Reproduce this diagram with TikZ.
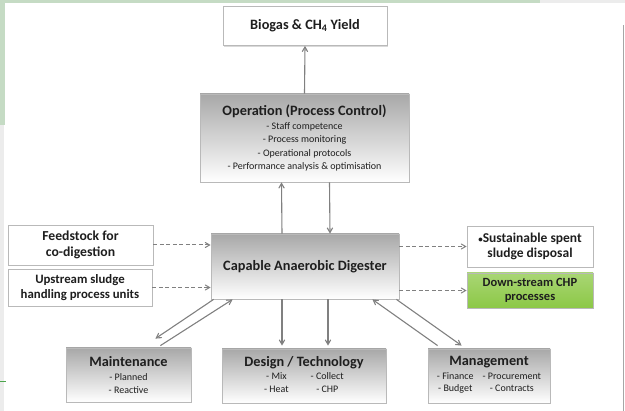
\documentclass[tikz,border=0pt]{standalone}
\usepackage{fontspec}
\setmainfont{Carlito}
\usepackage{xcolor}
\usepackage{tikz}
\usetikzlibrary{arrows, shadows}

\definecolor{linegray}{RGB}{128,128,128}
\definecolor{boxgray}{RGB}{168,168,168}
\definecolor{chpgreen}{RGB}{140,200,70}
\definecolor{textgray}{RGB}{30,30,30}
\definecolor{slidegreen}{RGB}{197,219,196}

\newcommand{\boxtitle}{\fontsize{14.3}{16}\selectfont\bfseries}
\newcommand{\boxitem}{\fontsize{10}{13.3}\selectfont}

\tikzset{
    box/.style={draw=gray!55, line width=0.8pt, align=center, text=textgray, inner sep=2pt,
        drop shadow={opacity=0.3, shadow xshift=1.3pt, shadow yshift=-1.3pt}},
    plainbox/.style={box, fill=white},
    shadebox/.style={box, top color=boxgray, middle color=white, bottom color=white},
    greenbox/.style={box, top color=chpgreen!75!white, bottom color=chpgreen},
    flow/.style={->, >=angle 60, draw=linegray, line width=1.1pt},
    supply/.style={->, >=angle 60, draw=linegray, line width=1pt, dash pattern=on 4pt off 2.5pt},
}

\begin{document}
\begin{tikzpicture}[x=1pt, y=-1pt]
        \useasboundingbox (0,0) rectangle (625,411);

        % slide frame
        \fill[slidegreen] (0,0) rectangle (5,125);
        \fill[slidegreen] (0,0) rectangle (540,3);
        \fill[gray!15] (0,125) rectangle (4,411);
        \fill[gray!15] (540,0) rectangle (625,3);
        \draw[gray!70, line width=1.5pt] (623.5,25) -- (623.5,411);
        \draw[green!50!black!70, line width=0.8pt] (0,381) -- (6,381);

        % top
        \node[plainbox, minimum width=164, minimum height=39] (bio) at (305,26)
            {\boxtitle Biogas \& CH\textsubscript{4} Yield};
        \node[shadebox, minimum width=209, minimum height=88, font=\boxitem] (op) at (304.5,138)
            {{\boxtitle Operation (Process Control)}\\[1pt]
             - Staff competence\\
             - Process monitoring\\
             - Operational protocols\\
             - Performance analysis \& optimisation};

        % middle
        \node[shadebox, minimum width=188, minimum height=65] (dig) at (305,266.5)
            {\boxtitle Capable Anaerobic Digester};
        \node[plainbox, minimum width=145, minimum height=40, font=\fontsize{13.7}{15.5}\selectfont\bfseries] (feed) at (80.5,245)
            {Feedstock for\\co-digestion};
        \node[plainbox, minimum width=144, minimum height=37, font=\fontsize{12.8}{14.2}\selectfont\bfseries] (up) at (80,287.5)
            {Upstream sludge\\handling process units};
        \node[plainbox, minimum width=126, minimum height=41, font=\fontsize{13.5}{15}\selectfont\bfseries] (sus) at (530,246.5)
            {{\fontsize{9}{9}\selectfont\textbullet}Sustainable spent\\sludge disposal};
        \node[greenbox, minimum width=126, minimum height=35, font=\fontsize{12.5}{14}\selectfont\bfseries] (chp) at (530,290.5)
            {Down-stream CHP\\processes};

        % bottom
        \node[shadebox, minimum width=125, minimum height=54, font=\boxitem] (maint) at (128.5,375)
            {{\boxtitle Maintenance}\\[1pt]
             - Planned\\
             - Reactive};
        \node[shadebox, minimum width=164, minimum height=54, font=\boxitem] (design) at (304,376)
            {{\boxtitle Design / Technology}\\[1pt]
             \begin{tabular}{@{}c@{\hspace{22pt}}c@{}}
             - Mix & - Collect\\[-1pt]
             - Heat & - CHP
             \end{tabular}};
        \node[shadebox, minimum width=122, minimum height=54, font=\boxitem] (mgmt) at (489,376)
            {{\boxtitle Management}\\[1pt]
             \begin{tabular}{@{}c@{\hspace{9pt}}c@{}}
             - Finance & - Procurement\\[-1pt]
             - Budget & - Contracts
             \end{tabular}};

        % op -> bio
        \draw[flow] (op.north) -- (bio.south);

        % dig <-> op
        \draw[flow] ([xshift=-23pt]dig.north) -- ([xshift=-23pt]op.south);
        \draw[flow] ([xshift=25pt]op.south) -- ([xshift=25pt]dig.north);

        % inputs -> dig
        \draw[supply] (feed) -- (feed -| dig.west);
        \draw[supply] (up) -- (up -| dig.west);

        % dig -> outputs
        \draw[supply] (sus -| dig.east) -- (sus.west);
        \draw[supply] (chp -| dig.east) -- (chp.west);

        % dig -> design
        \draw[flow, shorten >=3pt] ([xshift=-23pt]dig.south) -- ([xshift=-22pt]design.north);
        \draw[flow, shorten >=3pt] ([xshift=23pt]dig.south) -- ([xshift=24pt]design.north);

        % dig <-> maint
        \draw[flow] ([xshift=3pt]dig.south west) -- ([shift={(-36,-9)}]maint.north east);
        \draw[flow] ([shift={(-31,-2)}]maint.north east) -- ([xshift=22pt]dig.south west);

        % dig <-> mgmt
        \draw[flow] ([shift={(10,-3)}]mgmt.north west) -- ([xshift=-27pt]dig.south east);
        \draw[flow] ([xshift=-3pt]dig.south east) -- ([shift={(34,-3)}]mgmt.north west);
    \end{tikzpicture}
\end{document}
